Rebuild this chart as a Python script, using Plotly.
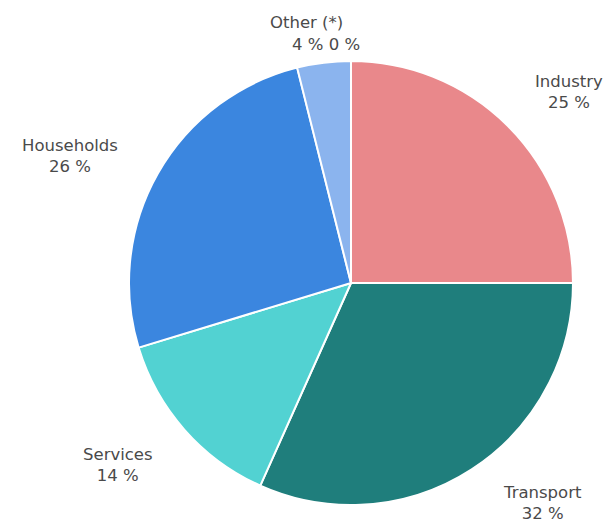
import plotly.graph_objects as go

# Final energy consumption by sector (share of total)
sectors = ["Industry", "Transport", "Services", "Households", "Other (*)", ""]
shares = [25.0, 31.7, 13.6, 25.8, 3.9, 0.0]
colors = ["#E9888B", "#1F7E7C", "#52D2D2", "#3B86DF", "#8BB4EE", "#FFFFFF"]

# Caption anchor points (paper coordinates) for the main sectors
label_x = [0.934, 0.890, 0.194, 0.115]
label_y = [0.826, 0.049, 0.121, 0.705]

fig = go.Figure(
    go.Pie(
        labels=sectors,
        values=shares,
        sort=False,
        direction="clockwise",
        rotation=0,
        marker=dict(colors=colors, line=dict(color="#FFFFFF", width=2)),
        textinfo="none",
        hoverinfo="label+percent",
        showlegend=False,
        domain=dict(x=[0.2118, 0.9409], y=[0.0454, 0.8847]),
    )
)

font = dict(family="DejaVu Sans, Liberation Sans, sans-serif", size=16.5, color="#4a4a4a")
for name, val, x, y in zip(sectors[:4], shares[:4], label_x, label_y):
    fig.add_annotation(
        x=x, y=y, xref="paper", yref="paper", showarrow=False,
        xanchor="center", yanchor="middle",
        text=f"{name}<br>{round(val)} %", font=font, align="center",
    )

# "Other" caption, with the zero-share slice value printed beside its value
fig.add_annotation(
    x=306 / 609, y=1 - 23 / 529, xref="paper", yref="paper", showarrow=False,
    xanchor="center", yanchor="middle", text=sectors[4], font=font,
)
fig.add_annotation(
    x=326 / 609, y=1 - 44 / 529, xref="paper", yref="paper", showarrow=False,
    xanchor="center", yanchor="middle",
    text=f"{round(shares[4])} % {round(shares[5])} %", font=font,
)

fig.update_layout(
    width=609, height=529,
    margin=dict(l=0, r=0, t=0, b=0),
    paper_bgcolor="#FFFFFF", plot_bgcolor="#FFFFFF",
)

fig.write_html("out.html")
